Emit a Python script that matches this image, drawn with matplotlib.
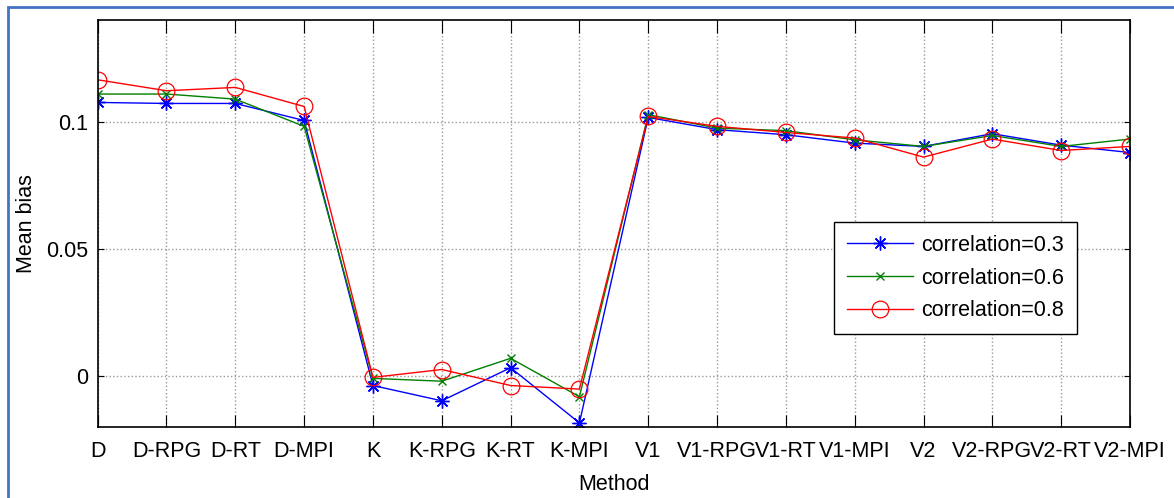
import numpy as np
import matplotlib
matplotlib.use('Agg')
from matplotlib import pyplot as plt
from matplotlib.patches import Rectangle

methods = ['D', 'D-RPG', 'D-RT', 'D-MPI', 'K', 'K-RPG', 'K-RT', 'K-MPI',
           'V1', 'V1-RPG', 'V1-RT', 'V1-MPI', 'V2', 'V2-RPG', 'V2-RT', 'V2-MPI']

corr_03 = [0.1076, 0.1072, 0.1072, 0.1005, -0.0037, -0.0097, 0.0033, -0.0184,
           0.1017, 0.0969, 0.0949, 0.0916, 0.0903, 0.0953, 0.0908, 0.0879]
corr_06 = [0.1109, 0.1109, 0.1089, 0.0982, -0.0009, -0.0020, 0.0070, -0.0081,
           0.1028, 0.0975, 0.0965, 0.0929, 0.0903, 0.0946, 0.0903, 0.0932]
corr_08 = [0.1165, 0.1122, 0.1135, 0.1060, -0.0005, 0.0026, -0.0037, -0.0051,
           0.1021, 0.0982, 0.0958, 0.0936, 0.0861, 0.0932, 0.0887, 0.0903]

plt.rcParams['font.family'] = ['Liberation Sans', 'DejaVu Sans']
fs = 15.5

fig = plt.figure(figsize=(11.74, 4.98), dpi=100)
ax = fig.add_axes([0.0832, 0.1426, 0.8793, 0.8172])

x = np.arange(len(methods))
ax.plot(x, corr_03, color='blue', lw=1, marker=(8, 2, 0), ms=10, mew=1,
        label='correlation=0.3')
ax.plot(x, corr_06, color='green', lw=1, marker='x', ms=6, mew=1,
        label='correlation=0.6')
ax.plot(x, corr_08, color='red', lw=1, marker='o', ms=12, mew=0.9,
        mfc='none', label='correlation=0.8')

ax.set_xlim(0, len(methods) - 1)
ax.set_ylim(-0.02, 0.14)
ax.set_xticks(x)
ax.set_xticklabels(methods, fontsize=fs)
ax.set_yticks([0, 0.05, 0.1])
ax.set_yticklabels(['0', '0.05', '0.1'], fontsize=fs)
ax.tick_params(axis='x', direction='in', length=9, top=True, pad=10)
ax.tick_params(axis='y', direction='in', length=4, right=True, pad=7)
ax.grid(True, color='#999999', linestyle=':', linewidth=1)
for s in ax.spines.values():
    s.set_linewidth(1.2)

ax.set_xlabel('Method', fontsize=fs, labelpad=9)
ax.set_ylabel('Mean bias', fontsize=fs, labelpad=6)

leg = ax.legend(loc='upper left', bbox_to_anchor=(0.713, 0.504), fontsize=fs,
                fancybox=False, framealpha=1, edgecolor='black',
                handlelength=3.1, handletextpad=0.35, borderpad=0.6,
                labelspacing=0.55, borderaxespad=0)
leg.get_frame().set_linewidth(1)

# blue frame around the figure
fig.patches.append(Rectangle((7.5 / 1174, -0.05), 1.2, 1.05 - 7 / 498,
                             transform=fig.transFigure, fill=False,
                             edgecolor='#4472C4', lw=2))

fig.savefig('out.png', dpi=100)
